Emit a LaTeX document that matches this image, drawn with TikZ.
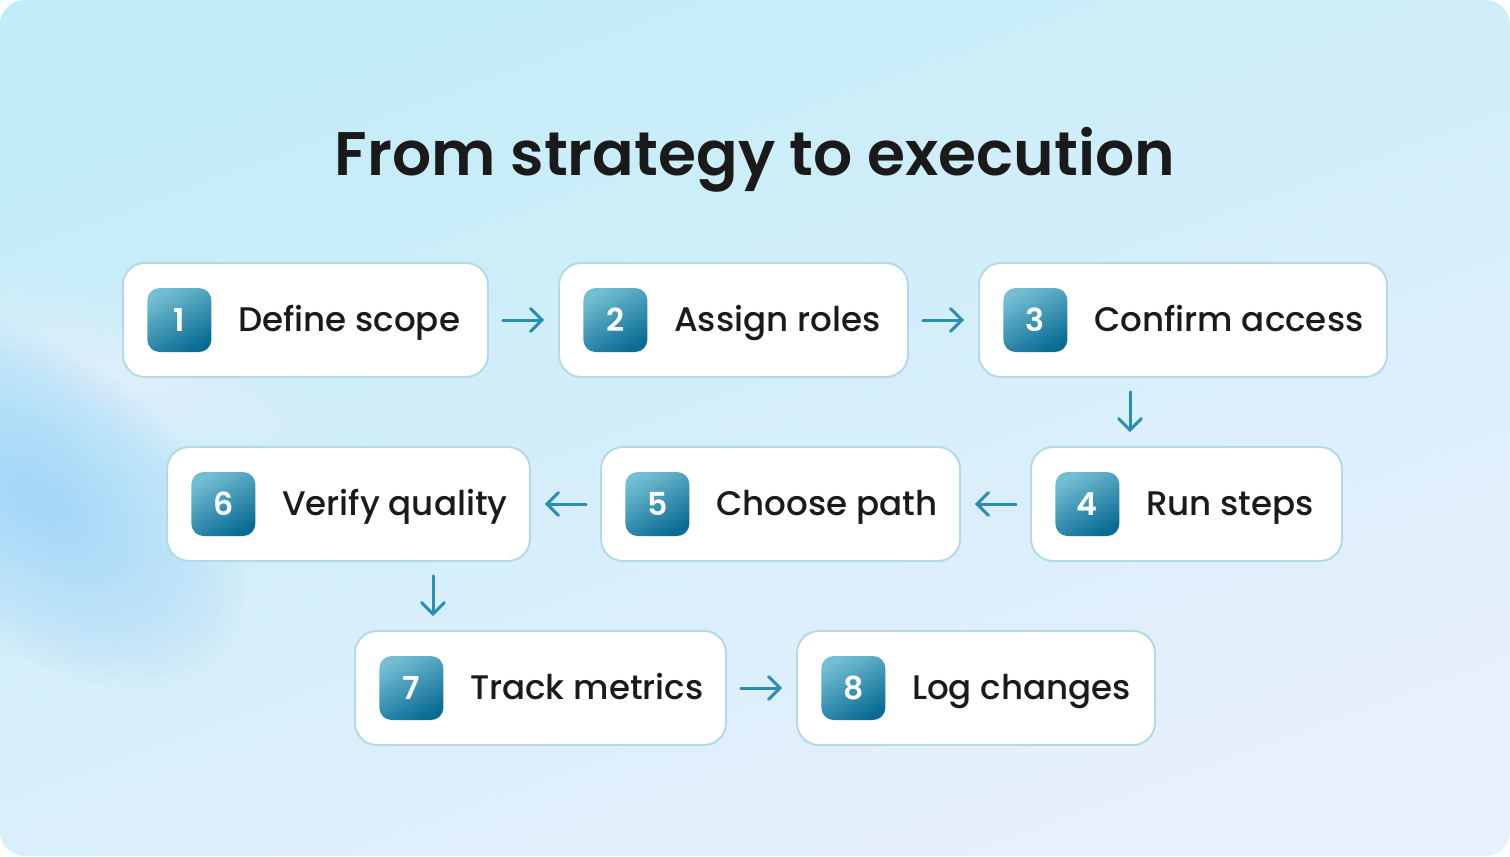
\documentclass[tikz,border=0pt]{standalone}
\usepackage{fontspec}
\setmainfont{Poppins}[UprightFont={* Medium},BoldFont={* SemiBold}]
\usepackage{tikz}
\usetikzlibrary{positioning}
\usetikzlibrary{arrows.meta}
\definecolor{bgtop}{HTML}{C2EDF8}
\definecolor{bgbot}{HTML}{E8F0FC}
\definecolor{glow}{HTML}{94D0F8}
\definecolor{edgeline}{HTML}{B3DAE4}
\definecolor{badgetop}{HTML}{72BED2}
\definecolor{badgebot}{HTML}{0A6C95}
\definecolor{flowcol}{HTML}{2A8DB2}
\definecolor{ink}{HTML}{1A1A1A}
\tikzstyle{stepbox}=[rectangle,rounded corners=12.5pt,fill=white,draw=edgeline,line width=1.1pt,minimum height=2.28cm,inner sep=0pt]
\tikzstyle{badge}=[rectangle,rounded corners=7pt,minimum size=1.28cm,inner sep=0pt,top color=badgetop,bottom color=badgebot,shading angle=30,text=white,font=\fontsize{18}{18}\selectfont\bfseries,text height=12.6pt,text depth=0pt]
\tikzstyle{steplabel}=[inner sep=0pt,text=ink,font=\fontsize{19.4}{20}\selectfont,text height=13.6pt,text depth=0pt]
\tikzstyle{flow} = [draw=flowcol,line width=1.7pt,line cap=round,shorten <=0.28cm,shorten >=0.28cm,-{Straight Barb[length=6.5pt,width=13pt,line cap=round]}]
\tikzset{heading/.style={inner sep=0pt,text=ink,font=\fontsize{35}{38}\selectfont\bfseries,text height=24.5pt,text depth=0pt}}

\begin{document}
\begin{tikzpicture}[x=0.02cm,y=-0.02cm]

  % background
  \path[use as bounding box] (0,0) rectangle (1510,856);
  \begin{scope}
    \clip[rounded corners=14pt] (0,0) rectangle (1510,856);
    \shade[top color=bgtop,bottom color=bgbot,shading angle=20] (0,0) rectangle (1510,856);
    \foreach \k in {1,...,18}
      \fill[white,opacity=0.03,rotate around={-20:(120,370)}] (120,370) ellipse ({13*\k} and {4*\k});
    \foreach \k in {1,...,20}
      \fill[glow,opacity=0.045,rotate around={-40:(40,500)}] (40,500) ellipse ({12*\k} and {7*\k});
  \end{scope}

  \node[heading] (title) at (755,154) {From strategy to execution};

   \foreach \cx/\cy/\w/\name/\num/\txt in {305.5/320/365/s1/1/Define scope, 733.5/320/349/s2/2/Assign roles, 1183/320/408/s3/3/Confirm access,
          1186.5/504/311/s4/4/Run steps, 780.5/504/359/s5/5/Choose path, 348.5/504/363/s6/6/Verify quality,
          540.5/688/371/s7/7/Track metrics, 976/688/358/s8/8/Log changes}
   {
      \node[stepbox,minimum width=\w*0.02cm] (\name) at (\cx,\cy) {};
      \node[badge,right=0.5cm of \name.west] (b\name) {\num};
      \node[steplabel,right=0.52cm of b\name] (t\name) {\txt};
   }

  \coordinate (down34) at (1130,0);
  \coordinate (down67) at (433,0);

  \foreach \source/ \dest in {s1/s2, s2/s3, s4/s5, s5/s6, s7/s8}
         \path[flow] (\source) -- (\dest);

  \path[flow] (s3.south -| down34) -- (s4.north -| down34);
  \path[flow] (s6.south -| down67) -- (s7.north -| down67);

\end{tikzpicture}
\end{document}
